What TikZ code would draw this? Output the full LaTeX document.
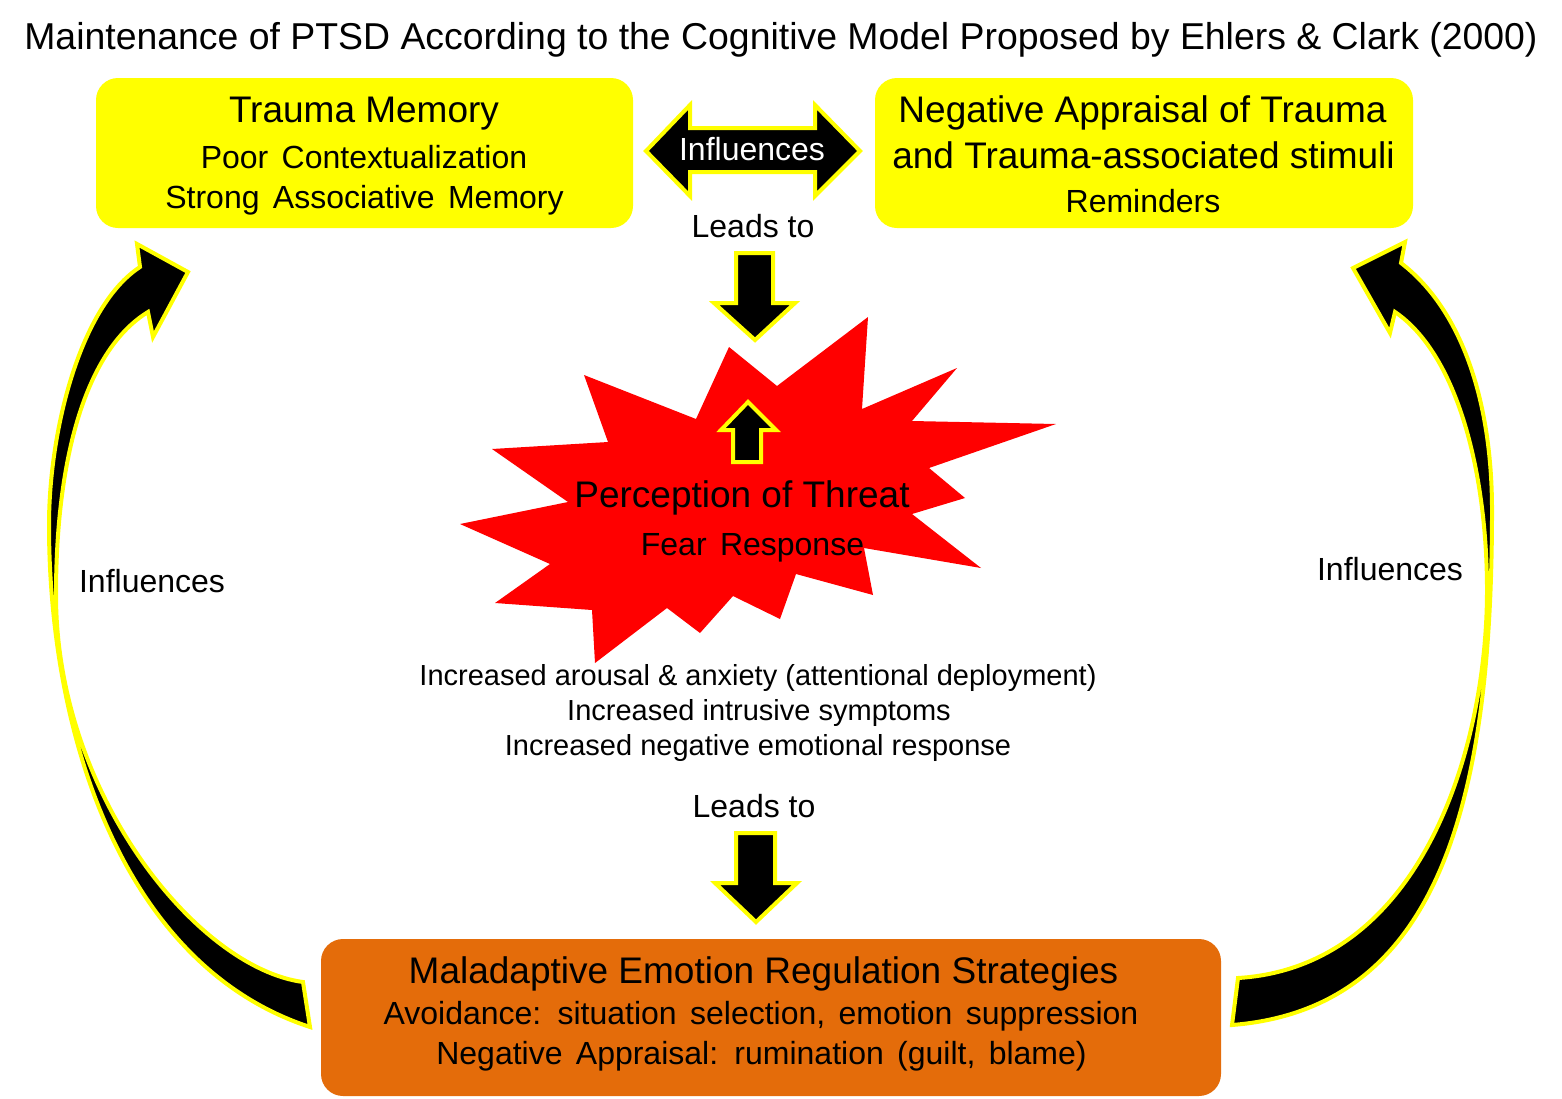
\documentclass[tikz,border=0pt]{standalone}
\usepackage{fontspec}
\setmainfont{Liberation Sans}
\newfontfamily\widefont[WordSpace=1.5]{Liberation Sans}
\newcommand\fsz[1]{\fontsize{#1}{#1}\selectfont}
\definecolor{orng}{HTML}{E46C0A}
\definecolor{yel}{HTML}{FFFF00}
\begin{document}
\begin{tikzpicture}[x=1pt,y=-1pt,
  ybox/.style={fill=yel, draw=none, rounded corners=22pt},
  obox/.style={fill=orng, draw=none, rounded corners=22pt},
  blk/.style={fill=black, draw=yel, line width=4pt, line join=miter},
  lbl/.style={anchor=base, inner sep=0pt},
  big/.style={lbl, font=\fsz{37}},
  mid/.style={lbl, font=\fsz{32}},
  midw/.style={lbl, font=\widefont\fsz{32}},
  sml/.style={lbl, font=\fsz{29}}]
\useasboundingbox (0,0) rectangle (1562,1098);
% title
\node[lbl, font=\fsz{37.4}] (title) at (781,49) {Maintenance of PTSD According to the Cognitive Model Proposed by Ehlers \& Clark (2000)};
% boxes
\path[ybox] (96,78) rectangle (633,228);
\path[ybox] (875,78) rectangle (1413,228);
\path[obox] (321,939) rectangle (1221,1096);
\node[big] (tm) at (364,122) {Trauma Memory};
\node[midw] (pc) at (364,168.5) {Poor Contextualization};
\node[midw] (sa) at (364.5,208.5) {Strong Associative Memory};
\node[big] (na) at (1142.5,122) {Negative Appraisal of Trauma};
\node[big] (ta) at (1143.5,168) {and Trauma-associated stimuli};
\node[mid] (rm) at (1143,212) {Reminders};
\node[big] (me) at (763.5,983) {Maladaptive Emotion Regulation Strategies};
\node[midw] (av) at (761,1024.5) {Avoidance: situation selection, emotion suppression};
\node[midw] (ng) at (761.5,1064.5) {Negative Appraisal: rumination (guilt, blame)};
% double arrow
\path[blk] (646,151) -- (690,105) -- (690,128) -- (815,128) -- (815,105) -- (860,151)
  -- (815,196) -- (815,172) -- (690,172) -- (690,196) -- cycle;
\node[mid, text=white] (infl) at (752,160.5) {Influences};
% leads to arrows
\node[mid] (lt1) at (753,237.5) {Leads to};
\path[blk] (736,253) -- (773,253) -- (773,303) -- (795,303) -- (755,340) -- (714,303) -- (736,303) -- cycle;
\node[mid] (lt2) at (754,817.5) {Leads to};
\path[blk] (736,833) -- (775,833) -- (775,883) -- (797,883) -- (756,922) -- (715,883) -- (736,883) -- cycle;
% star
\fill[red] (868,317) -- (862,409) -- (957,368) -- (912,421) -- (1056,424) -- (929,468)
 -- (965,498) -- (912,514) -- (981,568) -- (864,548) -- (873,595) -- (796,574)
 -- (780,619) -- (733,596) -- (700,633) -- (667,608) -- (595,663) -- (592,610)
 -- (495,603) -- (550,564) -- (460,524) -- (568,502) -- (492,449) -- (608,442)
 -- (584,375) -- (696,419) -- (729,347) -- (777,386) -- cycle;
\path[blk] (733,462) -- (761,462) -- (761,430) -- (776,430) -- (748,402) -- (721,430) -- (733,430) -- cycle;
\node[big] (pt) at (742,507) {Perception of Threat};
\node[midw] (fr) at (752.5,555.5) {Fear Response};
\node[sml] (i1) at (758,685.5) {Increased arousal \& anxiety (attentional deployment)};
\node[sml] (i2) at (759,720.5) {Increased intrusive symptoms};
\node[sml] (i3) at (758,755.5) {Increased negative emotional response};
% curved arrows
\path[blk] (310,1027) .. controls (124.5,966.5) and (49,737.5) .. (49,525)
  .. controls (49,430) and (80.5,305.7) .. (140,267)
  -- (137,244) -- (188,272) -- (153,337) -- (148,312)
  .. controls (89.3,347.8) and (56,449) .. (56,595)
  .. controls (56,795) and (198,968) .. (303,982) -- cycle;
\path[blk] (1232,1025) .. controls (1440,1008.5) and (1492,800) .. (1492,510)
  .. controls (1492,405) and (1463.6,311) .. (1401,263)
  -- (1405,242) -- (1353,268) -- (1390,333) -- (1395,312)
  .. controls (1459,355.6) and (1487,477) .. (1487,590)
  .. controls (1487,750.5) and (1420.6,966.8) .. (1238,978) -- cycle;
\node[mid] (il) at (152,592.5) {Influences};
\node[mid] (ir) at (1390,580.5) {Influences};
\end{tikzpicture}
\end{document}
